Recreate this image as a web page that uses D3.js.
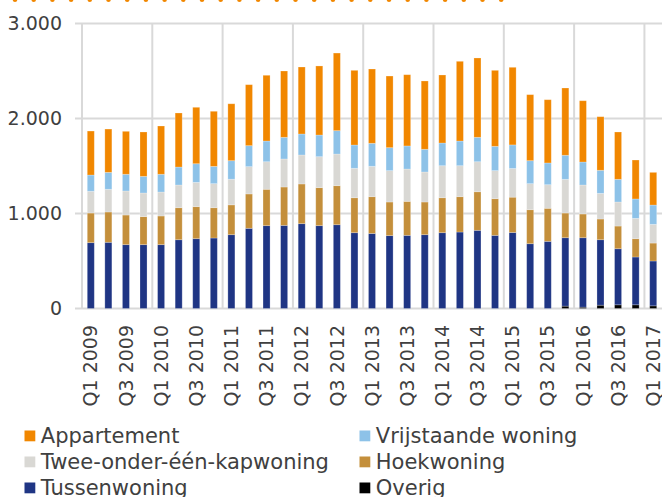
<!DOCTYPE html>
<html>
<head>
<meta charset="utf-8">
<script src="https://cdn.jsdelivr.net/npm/d3@7"></script>
<style>
  body { margin: 0; background: #fff; }
  text { font-family: "DejaVu Sans", sans-serif; fill: #404040; }
</style>
</head>
<body>
<div id="chart"></div>
<script>
const quarters = [
  "Q1 2009", "Q2 2009", "Q3 2009", "Q4 2009",
  "Q1 2010", "Q2 2010", "Q3 2010", "Q4 2010",
  "Q1 2011", "Q2 2011", "Q3 2011", "Q4 2011",
  "Q1 2012", "Q2 2012", "Q3 2012", "Q4 2012",
  "Q1 2013", "Q2 2013", "Q3 2013", "Q4 2013",
  "Q1 2014", "Q2 2014", "Q3 2014", "Q4 2014",
  "Q1 2015", "Q2 2015", "Q3 2015", "Q4 2015",
  "Q1 2016", "Q2 2016", "Q3 2016", "Q4 2016",
  "Q1 2017",
];

const overig = [
  0, 0, 0, 0, 0, 0, 0, 0, 0, 0, 0, 0, 0, 0, 0, 0, 0,
  0, 0, 0, 0, 0, 0, 0, 0, 0, 0, 25, 14, 35, 39, 39, 28,
];
const tussenwoning = [
  693, 697, 672, 672, 672, 724, 735, 742, 777, 844, 872, 875, 893, 872, 882, 798, 790,
  767, 770, 777, 798, 805, 823, 770, 800, 682, 707, 720, 731, 689, 590, 503, 472,
];
const hoekwoning = [
  312, 319, 312, 295, 302, 337, 337, 319, 314, 362, 383, 404, 418, 400, 411, 368, 387,
  354, 358, 344, 368, 372, 406, 386, 372, 358, 348, 260, 250, 218, 239, 193, 189,
];
const tweeOnderEenKap = [
  229, 239, 253, 249, 252, 239, 256, 253, 270, 287, 290, 295, 305, 326, 333, 310, 320,
  330, 340, 316, 337, 326, 316, 295, 302, 274, 248, 355, 305, 270, 253, 214, 197,
];
const vrijstaand = [
  171, 178, 176, 175, 187, 189, 196, 182, 195, 221, 218, 228, 221, 228, 246, 245, 242,
  242, 243, 239, 239, 260, 257, 256, 248, 242, 229, 253, 242, 243, 239, 204, 203,
];
const appartement = [
  463, 456, 452, 467, 508, 569, 594, 580, 599, 642, 692, 698, 705, 727, 817, 786, 782,
  754, 750, 719, 716, 839, 835, 800, 817, 695, 666, 708, 645, 564, 498, 410, 344,
];

const yTicks = [0, 1000, 2000, 3000];

// stack order bottom -> top
const series = [
  { key: "overig", name: "Overig", color: "#000000", values: overig },
  { key: "tussen", name: "Tussenwoning", color: "#1f3584", values: tussenwoning },
  { key: "hoek", name: "Hoekwoning", color: "#c48f3b", values: hoekwoning },
  { key: "twee", name: "Twee-onder-één-kapwoning", color: "#d9d8d4", values: tweeOnderEenKap },
  { key: "vrij", name: "Vrijstaande woning", color: "#8dc2e8", values: vrijstaand },
  { key: "app", name: "Appartement", color: "#f18700", values: appartement },
];

const rows = quarters.map((q, i) => {
  const r = { quarter: q };
  series.forEach((s) => (r[s.key] = s.values[i]));
  return r;
});

const width = 662,
  height = 497;
const plot = { left: 82, right: 662, top: 23.5, bottom: 308.5 };

const svg = d3
  .select("#chart")
  .append("svg")
  .attr("width", width)
  .attr("height", height);

const x = d3
  .scaleBand()
  .domain(quarters)
  .range([plot.left, plot.right])
  .paddingInner(0.6)
  .paddingOuter(0.3);

const y = d3.scaleLinear().domain([0, 3000]).range([plot.bottom, plot.top]);

const nl = d3.formatLocale({
  decimal: ",",
  thousands: ".",
  grouping: [3],
  currency: ["€", ""],
});

// decorative dotted line along the top edge
svg
  .append("g")
  .selectAll("circle")
  .data(d3.range(27))
  .enter()
  .append("circle")
  .attr("cx", (d) => 15 + d * 18.7)
  .attr("cy", -0.3)
  .attr("r", 2.3)
  .attr("fill", "#f18700");

// gridlines
const grid = svg.append("g").attr("stroke", "#d9d9d9").attr("stroke-width", 2);

grid
  .selectAll(".hgrid")
  .data(yTicks)
  .enter()
  .append("line")
  .attr("x1", plot.left - 7)
  .attr("x2", plot.right)
  .attr("y1", (d) => y(d))
  .attr("y2", (d) => y(d));

const gap = (x.step() - x.bandwidth()) / 2;
grid
  .selectAll(".vgrid")
  .data(quarters.filter((q) => q.startsWith("Q1")))
  .enter()
  .append("line")
  .attr("x1", (d) => x(d) - gap)
  .attr("x2", (d) => x(d) - gap)
  .attr("y1", y(3000))
  .attr("y2", y(0));

// bars
const stacked = d3.stack().keys(series.map((s) => s.key))(rows);

svg
  .append("g")
  .selectAll("g")
  .data(stacked)
  .enter()
  .append("g")
  .attr("fill", (d, i) => series[i].color)
  .selectAll("rect")
  .data((d) => d)
  .enter()
  .append("rect")
  .attr("x", (d) => x(d.data.quarter))
  .attr("width", x.bandwidth())
  .attr("y", (d) => y(d[1]))
  .attr("height", (d) => y(d[0]) - y(d[1]))
  .attr("stroke", "#fff")
  .attr("stroke-opacity", 0.3)
  .attr("stroke-width", 0.8);

// y axis labels
svg
  .append("g")
  .selectAll("text")
  .data(yTicks)
  .enter()
  .append("text")
  .attr("x", 62)
  .attr("y", (d) => y(d))
  .attr("dy", "0.35em")
  .attr("text-anchor", "end")
  .style("font-size", "19px")
  .text((d) => nl.format(",")(d));

// x axis labels (every other quarter)
svg
  .append("g")
  .selectAll("text")
  .data(quarters.filter((q, i) => i % 2 === 0))
  .enter()
  .append("text")
  .attr(
    "transform",
    (d) => `translate(${x(d) + x.bandwidth() / 2},325) rotate(-90)`
  )
  .attr("dy", "0.35em")
  .attr("text-anchor", "end")
  .style("font-size", "19px")
  .text((d) => d);

// legend
const legendOrder = ["app", "vrij", "twee", "hoek", "tussen", "overig"];
const legend = svg
  .append("g")
  .selectAll("g")
  .data(legendOrder.map((k) => series.find((s) => s.key === k)))
  .enter()
  .append("g")
  .attr(
    "transform",
    (d, i) => `translate(${i % 2 === 0 ? 24.5 : 359.5},${443 + Math.floor(i / 2) * 26})`
  );

legend
  .append("rect")
  .attr("x", 0)
  .attr("y", -12.5)
  .attr("width", 10.8)
  .attr("height", 10.8)
  .attr("fill", (d) => d.color);

legend
  .append("text")
  .attr("x", 16.3)
  .attr("y", 0)
  .style("font-size", "21px")
  .text((d) => d.name);
</script>
</body>
</html>
